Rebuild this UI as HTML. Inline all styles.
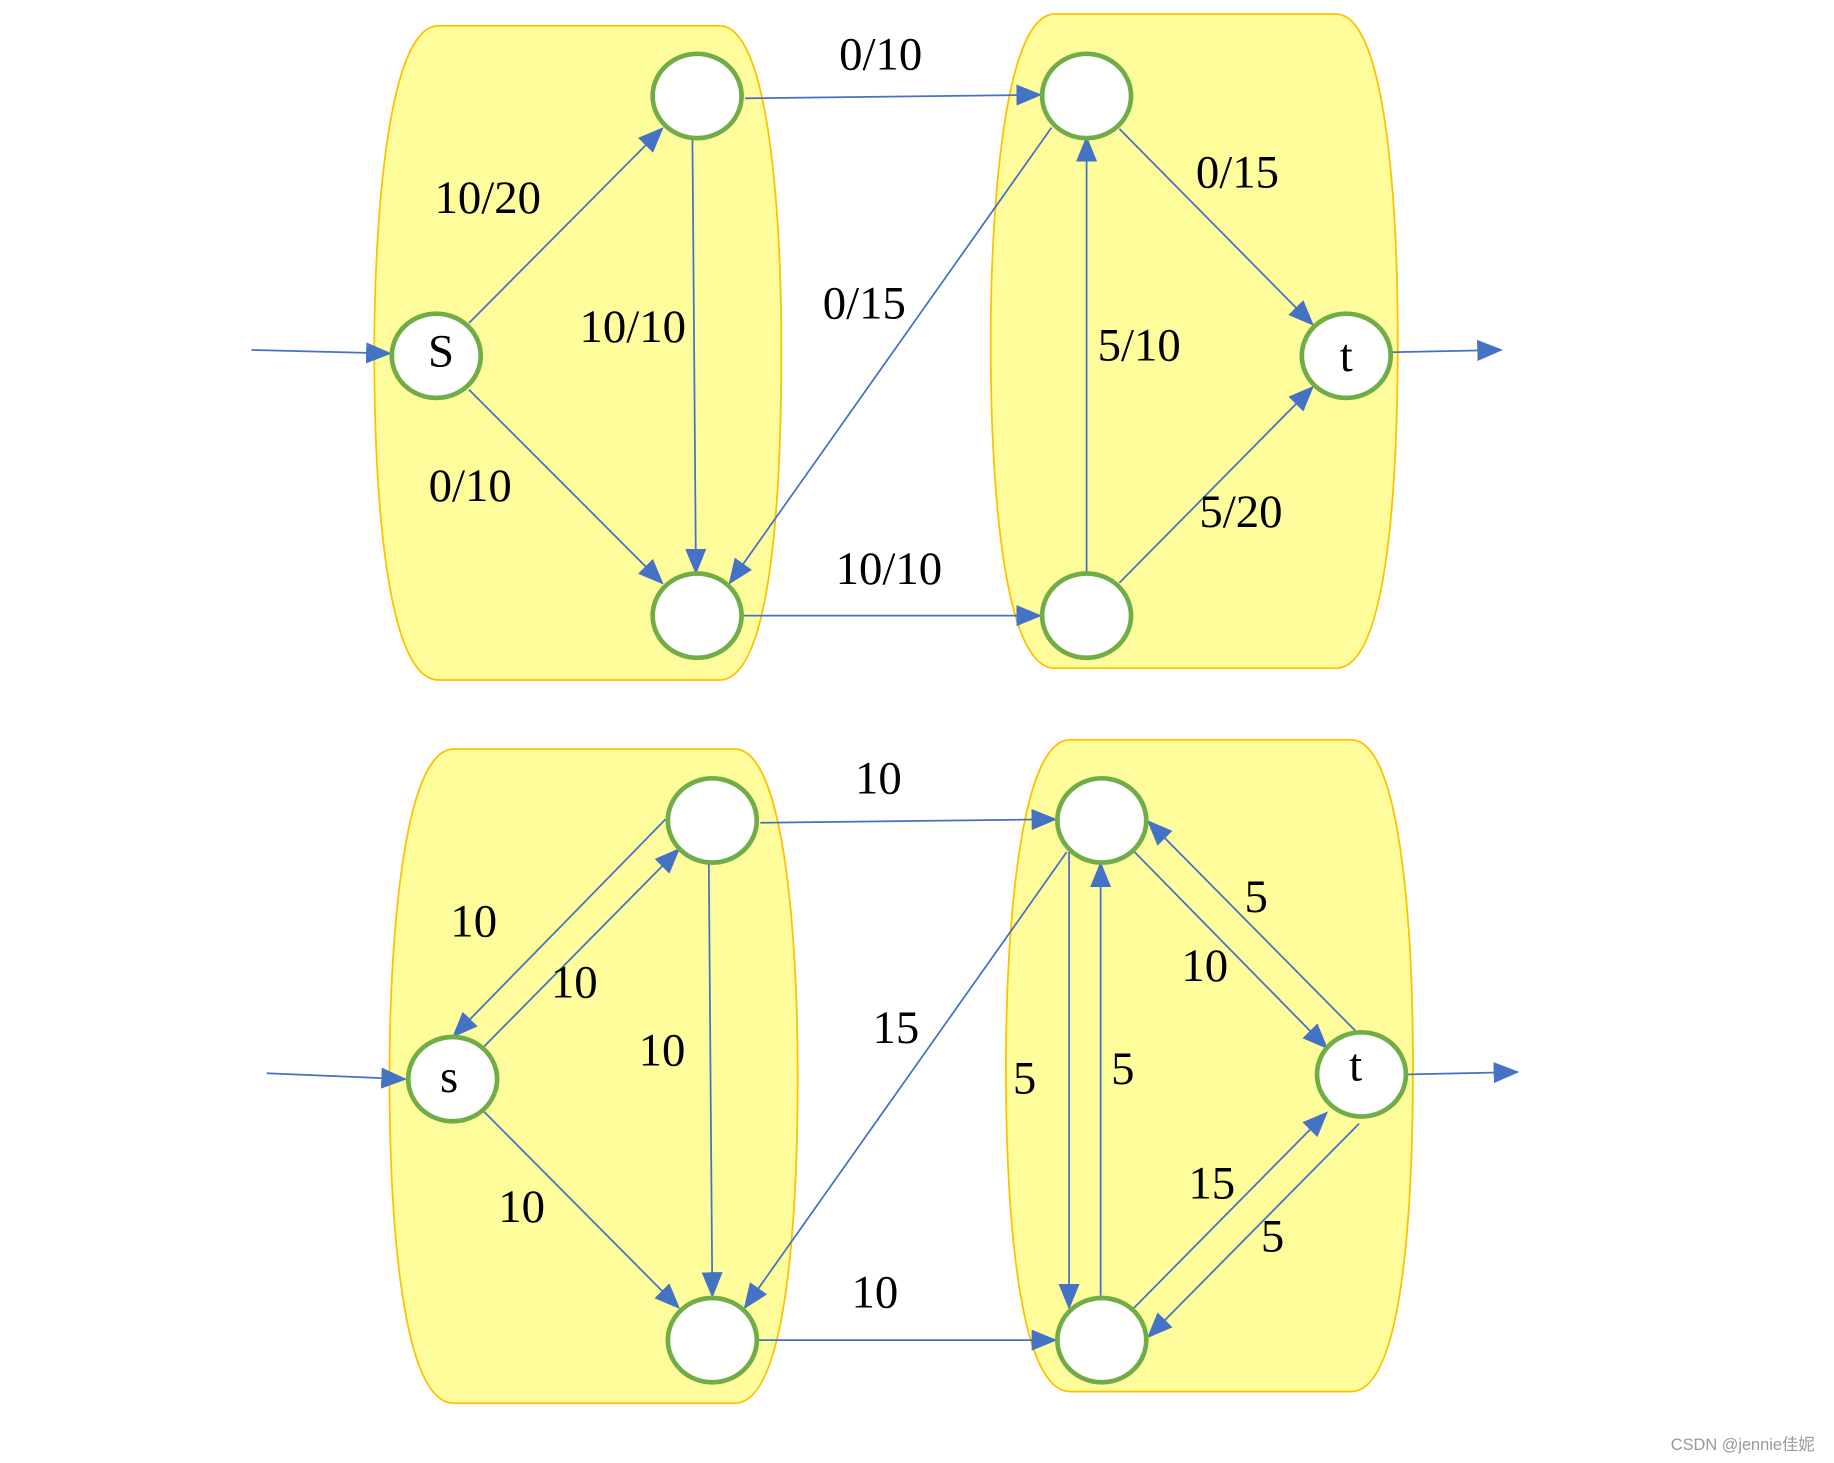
<!DOCTYPE html>
<html><head><meta charset="utf-8"><style>
html,body{margin:0;padding:0;background:#fff;}
svg{display:block;}
text{font-family:"Liberation Serif",serif;font-size:40px;fill:#000;text-anchor:middle;dominant-baseline:middle;}
</style></head><body>
<svg width="1834" height="1463" viewBox="0 0 1568 1250" preserveAspectRatio="none" xmlns="http://www.w3.org/2000/svg">
<defs>
<marker id="a" markerUnits="userSpaceOnUse" markerWidth="22" markerHeight="18" refX="20" refY="9" orient="auto">
<path d="M0,0 L22,9 L0,18 Z" fill="#4472C4"/>
</marker>
</defs>
<g fill="#FFFD9B" stroke="#FFC000" stroke-width="1.5">
<path d="M375,22 L615,22 C660,22 668,200 668,300 C668,420 660,581 615,581 L375,581 C330,581 320,420 320,300 C320,200 330,22 375,22 Z"/>
<path d="M902,12 L1142,12 C1187,12 1195,190 1195,290 C1195,410 1187,571 1142,571 L902,571 C857,571 847,410 847,290 C847,190 857,12 902,12 Z"/>
<path d="M388,640 L628,640 C673,640 682,818 682,918 C682,1038 673,1199 628,1199 L388,1199 C343,1199 333,1038 333,918 C333,818 343,640 388,640 Z"/>
<path d="M915,632 L1155,632 C1200,632 1208,810 1208,910 C1208,1030 1200,1189 1155,1189 L915,1189 C870,1189 860,1030 860,910 C860,810 870,632 915,632 Z"/>
</g>
<g stroke="#4472C4" stroke-width="1.5" fill="none" marker-end="url(#a)">
<line x1="215" y1="299" x2="333" y2="302"/>
<line x1="401" y1="276" x2="566" y2="110"/>
<line x1="401" y1="333" x2="566" y2="498"/>
<line x1="592" y1="119" x2="595" y2="489"/>
<line x1="637" y1="84" x2="889" y2="81"/>
<line x1="899" y1="109" x2="624" y2="498"/>
<line x1="929" y1="490" x2="929" y2="118"/>
<line x1="957" y1="110" x2="1122" y2="277"/>
<line x1="957" y1="498" x2="1122" y2="331"/>
<line x1="635" y1="526" x2="889" y2="526"/>
<line x1="1190" y1="301" x2="1283" y2="299"/>

<line x1="228" y1="917" x2="346" y2="922"/>
<line x1="569" y1="700" x2="388" y2="885"/>
<line x1="414" y1="894" x2="580" y2="726"/>
<line x1="414" y1="950" x2="580" y2="1117"/>
<line x1="606" y1="738" x2="609" y2="1107"/>
<line x1="650" y1="703" x2="902" y2="700"/>
<line x1="912" y1="728" x2="637" y2="1117"/>
<line x1="914" y1="728" x2="914" y2="1117"/>
<line x1="941" y1="1107" x2="941" y2="738"/>
<line x1="970" y1="728" x2="1134" y2="895"/>
<line x1="1162" y1="884" x2="982" y2="702"/>
<line x1="969" y1="1118" x2="1134" y2="951"/>
<line x1="1162" y1="960" x2="982" y2="1142"/>
<line x1="648" y1="1145" x2="902" y2="1145"/>
<line x1="1204" y1="918" x2="1297" y2="916"/>
</g>
<g fill="#fff" stroke="#70AD47" stroke-width="4">
<ellipse cx="373" cy="304" rx="38" ry="36"/>
<ellipse cx="596" cy="82" rx="38" ry="36"/>
<ellipse cx="596" cy="526" rx="38" ry="36"/>
<ellipse cx="929" cy="82" rx="38" ry="36"/>
<ellipse cx="929" cy="526" rx="38" ry="36"/>
<ellipse cx="1151" cy="304" rx="38" ry="36"/>
<ellipse cx="387" cy="922" rx="38" ry="36"/>
<ellipse cx="609" cy="701" rx="38" ry="36"/>
<ellipse cx="609" cy="1145" rx="38" ry="36"/>
<ellipse cx="942" cy="701" rx="38" ry="36"/>
<ellipse cx="942" cy="1145" rx="38" ry="36"/>
<ellipse cx="1164" cy="918" rx="38" ry="36"/>
</g>
<text x="377" y="304">S</text>
<text x="1151" y="308">t</text>
<text x="384" y="924">s</text>
<text x="1159" y="914">t</text>
<text x="753" y="50">0/10</text>
<text x="417" y="173">10/20</text>
<text x="541" y="283">10/10</text>
<text x="739" y="263">0/15</text>
<text x="402" y="419">0/10</text>
<text x="760" y="490">10/10</text>
<text x="1058" y="151">0/15</text>
<text x="974" y="299">5/10</text>
<text x="1061" y="441">5/20</text>
<text x="751" y="669">10</text>
<text x="405" y="791">10</text>
<text x="491" y="843">10</text>
<text x="566" y="901">10</text>
<text x="766" y="882">15</text>
<text x="446" y="1035">10</text>
<text x="748" y="1108">10</text>
<text x="1074" y="770">5</text>
<text x="1030" y="829">10</text>
<text x="876" y="925">5</text>
<text x="960" y="917">5</text>
<text x="1036" y="1015">15</text>
<text x="1088" y="1060">5</text>
<text x="1490" y="1235" style="font-family:'Liberation Sans','Noto Sans CJK SC',sans-serif;font-size:14px;fill:#999;">CSDN @jennie佳妮</text>
</svg>
</body></html>
